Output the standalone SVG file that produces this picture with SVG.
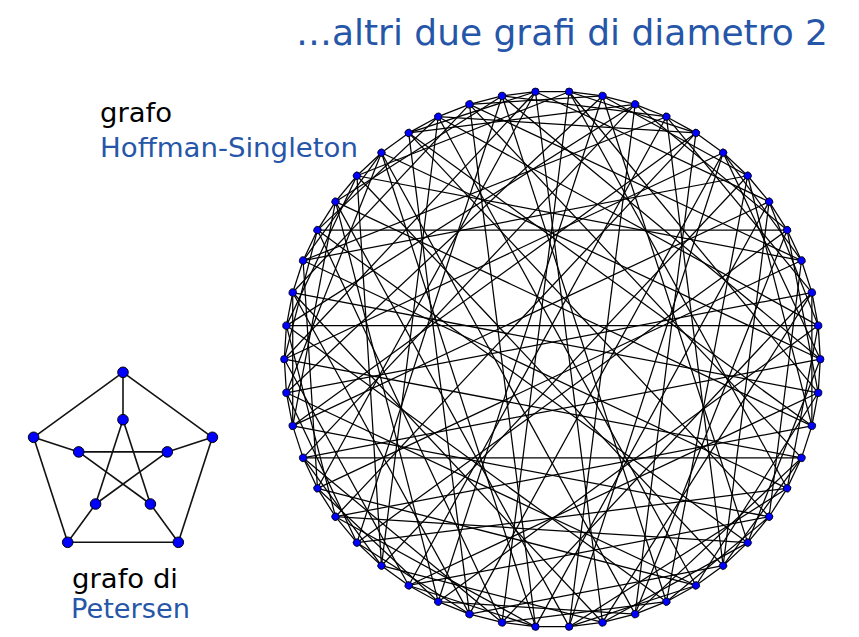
<svg xmlns="http://www.w3.org/2000/svg" width="859" height="637" viewBox="0 0 859 637">
<style>
.e{stroke:#000;stroke-width:1.25;fill:none}
.v{fill:#0000ff;stroke:#000;stroke-width:0.8}
.pe{stroke:#111;stroke-width:1.6;fill:none}
.pv{fill:#0000ff;stroke:#000;stroke-width:1}
.t{font-family:'Comic Sans MS','DejaVu Sans',sans-serif}
.blue{fill:#2656a8}
.blk{fill:#000}
</style>
<defs>
<line id="d1" x1="268" y1="0" x2="265.89" y2="-33.59"/>
<line id="d4" x1="268" y1="0" x2="234.85" y2="-129.11"/>
<line id="d7" x1="268" y1="0" x2="170.83" y2="-206.50"/>
<line id="d12" x1="268" y1="0" x2="16.83" y2="-267.47"/>
<line id="d14" x1="268" y1="0" x2="-50.22" y2="-263.25"/>
<line id="d15" x1="268" y1="0" x2="-82.82" y2="-254.88"/>
<line id="d16" x1="268" y1="0" x2="-114.11" y2="-242.49"/>
<line id="d18" x1="268" y1="0" x2="-170.83" y2="-206.50"/>
<line id="d22" x1="268" y1="0" x2="-249.18" y2="-98.66"/>
<line id="d23" x1="268" y1="0" x2="-259.58" y2="-66.65"/>
<line id="d24" x1="268" y1="0" x2="-265.89" y2="-33.59"/>
<line id="d26" x1="268" y1="0" x2="-265.89" y2="33.59"/>
<line id="d28" x1="268" y1="0" x2="-249.18" y2="98.66"/>
<line id="d31" x1="268" y1="0" x2="-195.36" y2="183.46"/>
<line id="d32" x1="268" y1="0" x2="-170.83" y2="206.50"/>
<line id="d33" x1="268" y1="0" x2="-143.60" y2="226.28"/>
<line id="d34" x1="268" y1="0" x2="-114.11" y2="242.49"/>
<line id="d37" x1="268" y1="0" x2="-16.83" y2="267.47"/>
<line id="d42" x1="268" y1="0" x2="143.60" y2="226.28"/>
<line id="d44" x1="268" y1="0" x2="195.36" y2="183.46"/>
<line id="d45" x1="268" y1="0" x2="216.82" y2="157.53"/>
<line id="d46" x1="268" y1="0" x2="234.85" y2="129.11"/>
<g id="sec">
<use href="#d1"/>
<use href="#d1" transform="rotate(-7.2)"/>
<use href="#d1" transform="rotate(-14.4)"/>
<use href="#d1" transform="rotate(-21.6)"/>
<use href="#d1" transform="rotate(-28.8)"/>
<use href="#d1" transform="rotate(-36)"/>
<use href="#d1" transform="rotate(-43.2)"/>
<use href="#d1" transform="rotate(-50.4)"/>
<use href="#d1" transform="rotate(-57.6)"/>
<use href="#d1" transform="rotate(-64.8)"/>
<use href="#d7"/>
<use href="#d18"/>
<use href="#d28"/>
<use href="#d44"/>
<use href="#d14"/>
<use href="#d4" transform="rotate(-7.2)"/>
<use href="#d23" transform="rotate(-7.2)"/>
<use href="#d33" transform="rotate(-7.2)"/>
<use href="#d45" transform="rotate(-7.2)"/>
<use href="#d15" transform="rotate(-7.2)"/>
<use href="#d46" transform="rotate(-14.4)"/>
<use href="#d7" transform="rotate(-14.4)"/>
<use href="#d37" transform="rotate(-14.4)"/>
<use href="#d24" transform="rotate(-14.4)"/>
<use href="#d34" transform="rotate(-14.4)"/>
<use href="#d4" transform="rotate(-21.6)"/>
<use href="#d12" transform="rotate(-21.6)"/>
<use href="#d42" transform="rotate(-21.6)"/>
<use href="#d16" transform="rotate(-21.6)"/>
<use href="#d26" transform="rotate(-21.6)"/>
<use href="#d45" transform="rotate(-28.8)"/>
<use href="#d22" transform="rotate(-36)"/>
<use href="#d32" transform="rotate(-36)"/>
<use href="#d42" transform="rotate(-43.2)"/>
<use href="#d31" transform="rotate(-50.4)"/>
</g>
</defs>

<text class="t blue" x="296" y="45" font-size="36" textLength="532" lengthAdjust="spacingAndGlyphs">…altri due grafi di diametro 2</text>
<text class="t blk" x="100" y="122" font-size="26" textLength="72" lengthAdjust="spacingAndGlyphs">grafo</text>
<text class="t blue" x="100" y="157" font-size="26" textLength="258" lengthAdjust="spacingAndGlyphs">Hoffman-Singleton</text>
<text class="t blk" x="72" y="588" font-size="26" textLength="106" lengthAdjust="spacingAndGlyphs">grafo di</text>
<text class="t blue" x="71" y="618" font-size="26" textLength="119" lengthAdjust="spacingAndGlyphs">Petersen</text>

<g id="hs-connectors" class="e" transform="translate(552.3 359.2)">
<use href="#sec"/>
<use href="#sec" transform="rotate(-72)"/>
<use href="#sec" transform="rotate(-144)"/>
<use href="#sec" transform="rotate(-216)"/>
<use href="#sec" transform="rotate(-288)"/>
</g>

<g id="hs-nodes" transform="translate(552.3 359.2)">
<g id="hs0"><circle class="v" cx="268" cy="0" r="3.7"/></g>
<g id="hs1"><circle class="v" cx="268" cy="0" r="3.7" transform="rotate(-7.2)"/></g>
<g id="hs2"><circle class="v" cx="268" cy="0" r="3.7" transform="rotate(-14.4)"/></g>
<g id="hs3"><circle class="v" cx="268" cy="0" r="3.7" transform="rotate(-21.6)"/></g>
<g id="hs4"><circle class="v" cx="268" cy="0" r="3.7" transform="rotate(-28.8)"/></g>
<g id="hs5"><circle class="v" cx="268" cy="0" r="3.7" transform="rotate(-36)"/></g>
<g id="hs6"><circle class="v" cx="268" cy="0" r="3.7" transform="rotate(-43.2)"/></g>
<g id="hs7"><circle class="v" cx="268" cy="0" r="3.7" transform="rotate(-50.4)"/></g>
<g id="hs8"><circle class="v" cx="268" cy="0" r="3.7" transform="rotate(-57.6)"/></g>
<g id="hs9"><circle class="v" cx="268" cy="0" r="3.7" transform="rotate(-64.8)"/></g>
<g id="hs10"><circle class="v" cx="268" cy="0" r="3.7" transform="rotate(-72)"/></g>
<g id="hs11"><circle class="v" cx="268" cy="0" r="3.7" transform="rotate(-79.2)"/></g>
<g id="hs12"><circle class="v" cx="268" cy="0" r="3.7" transform="rotate(-86.4)"/></g>
<g id="hs13"><circle class="v" cx="268" cy="0" r="3.7" transform="rotate(-93.6)"/></g>
<g id="hs14"><circle class="v" cx="268" cy="0" r="3.7" transform="rotate(-100.8)"/></g>
<g id="hs15"><circle class="v" cx="268" cy="0" r="3.7" transform="rotate(-108)"/></g>
<g id="hs16"><circle class="v" cx="268" cy="0" r="3.7" transform="rotate(-115.2)"/></g>
<g id="hs17"><circle class="v" cx="268" cy="0" r="3.7" transform="rotate(-122.4)"/></g>
<g id="hs18"><circle class="v" cx="268" cy="0" r="3.7" transform="rotate(-129.6)"/></g>
<g id="hs19"><circle class="v" cx="268" cy="0" r="3.7" transform="rotate(-136.8)"/></g>
<g id="hs20"><circle class="v" cx="268" cy="0" r="3.7" transform="rotate(-144)"/></g>
<g id="hs21"><circle class="v" cx="268" cy="0" r="3.7" transform="rotate(-151.2)"/></g>
<g id="hs22"><circle class="v" cx="268" cy="0" r="3.7" transform="rotate(-158.4)"/></g>
<g id="hs23"><circle class="v" cx="268" cy="0" r="3.7" transform="rotate(-165.6)"/></g>
<g id="hs24"><circle class="v" cx="268" cy="0" r="3.7" transform="rotate(-172.8)"/></g>
<g id="hs25"><circle class="v" cx="268" cy="0" r="3.7" transform="rotate(-180)"/></g>
<g id="hs26"><circle class="v" cx="268" cy="0" r="3.7" transform="rotate(-187.2)"/></g>
<g id="hs27"><circle class="v" cx="268" cy="0" r="3.7" transform="rotate(-194.4)"/></g>
<g id="hs28"><circle class="v" cx="268" cy="0" r="3.7" transform="rotate(-201.6)"/></g>
<g id="hs29"><circle class="v" cx="268" cy="0" r="3.7" transform="rotate(-208.8)"/></g>
<g id="hs30"><circle class="v" cx="268" cy="0" r="3.7" transform="rotate(-216)"/></g>
<g id="hs31"><circle class="v" cx="268" cy="0" r="3.7" transform="rotate(-223.2)"/></g>
<g id="hs32"><circle class="v" cx="268" cy="0" r="3.7" transform="rotate(-230.4)"/></g>
<g id="hs33"><circle class="v" cx="268" cy="0" r="3.7" transform="rotate(-237.6)"/></g>
<g id="hs34"><circle class="v" cx="268" cy="0" r="3.7" transform="rotate(-244.8)"/></g>
<g id="hs35"><circle class="v" cx="268" cy="0" r="3.7" transform="rotate(-252)"/></g>
<g id="hs36"><circle class="v" cx="268" cy="0" r="3.7" transform="rotate(-259.2)"/></g>
<g id="hs37"><circle class="v" cx="268" cy="0" r="3.7" transform="rotate(-266.4)"/></g>
<g id="hs38"><circle class="v" cx="268" cy="0" r="3.7" transform="rotate(-273.6)"/></g>
<g id="hs39"><circle class="v" cx="268" cy="0" r="3.7" transform="rotate(-280.8)"/></g>
<g id="hs40"><circle class="v" cx="268" cy="0" r="3.7" transform="rotate(-288)"/></g>
<g id="hs41"><circle class="v" cx="268" cy="0" r="3.7" transform="rotate(-295.2)"/></g>
<g id="hs42"><circle class="v" cx="268" cy="0" r="3.7" transform="rotate(-302.4)"/></g>
<g id="hs43"><circle class="v" cx="268" cy="0" r="3.7" transform="rotate(-309.6)"/></g>
<g id="hs44"><circle class="v" cx="268" cy="0" r="3.7" transform="rotate(-316.8)"/></g>
<g id="hs45"><circle class="v" cx="268" cy="0" r="3.7" transform="rotate(-324)"/></g>
<g id="hs46"><circle class="v" cx="268" cy="0" r="3.7" transform="rotate(-331.2)"/></g>
<g id="hs47"><circle class="v" cx="268" cy="0" r="3.7" transform="rotate(-338.4)"/></g>
<g id="hs48"><circle class="v" cx="268" cy="0" r="3.7" transform="rotate(-345.6)"/></g>
<g id="hs49"><circle class="v" cx="268" cy="0" r="3.7" transform="rotate(-352.8)"/></g>
</g>

<g id="petersen-connectors" class="pe">
<line x1="123" y1="372.3" x2="212.4" y2="437.3"/>
<line x1="212.4" y1="437.3" x2="178.3" y2="542.3"/>
<line x1="178.3" y1="542.3" x2="67.7" y2="542.3"/>
<line x1="67.7" y1="542.3" x2="33.6" y2="437.3"/>
<line x1="33.6" y1="437.3" x2="123" y2="372.3"/>
<line x1="123" y1="372.3" x2="123" y2="419.7"/>
<line x1="212.4" y1="437.3" x2="167.3" y2="451.9"/>
<line x1="178.3" y1="542.3" x2="150.4" y2="504"/>
<line x1="67.7" y1="542.3" x2="95.6" y2="504"/>
<line x1="33.6" y1="437.3" x2="78.7" y2="451.9"/>
<line x1="123" y1="419.7" x2="150.4" y2="504"/>
<line x1="150.4" y1="504" x2="78.7" y2="451.9"/>
<line x1="78.7" y1="451.9" x2="167.3" y2="451.9"/>
<line x1="167.3" y1="451.9" x2="95.6" y2="504"/>
<line x1="95.6" y1="504" x2="123" y2="419.7"/>
</g>
<g id="petersen-nodes">
<g id="po0"><circle class="pv" cx="123" cy="372.3" r="5.3"/></g>
<g id="po1"><circle class="pv" cx="212.4" cy="437.3" r="5.3"/></g>
<g id="po2"><circle class="pv" cx="178.3" cy="542.3" r="5.3"/></g>
<g id="po3"><circle class="pv" cx="67.7" cy="542.3" r="5.3"/></g>
<g id="po4"><circle class="pv" cx="33.6" cy="437.3" r="5.3"/></g>
<g id="pi0"><circle class="pv" cx="123" cy="419.7" r="5.3"/></g>
<g id="pi1"><circle class="pv" cx="167.3" cy="451.9" r="5.3"/></g>
<g id="pi2"><circle class="pv" cx="150.4" cy="504" r="5.3"/></g>
<g id="pi3"><circle class="pv" cx="95.6" cy="504" r="5.3"/></g>
<g id="pi4"><circle class="pv" cx="78.7" cy="451.9" r="5.3"/></g>
</g>
</svg>
